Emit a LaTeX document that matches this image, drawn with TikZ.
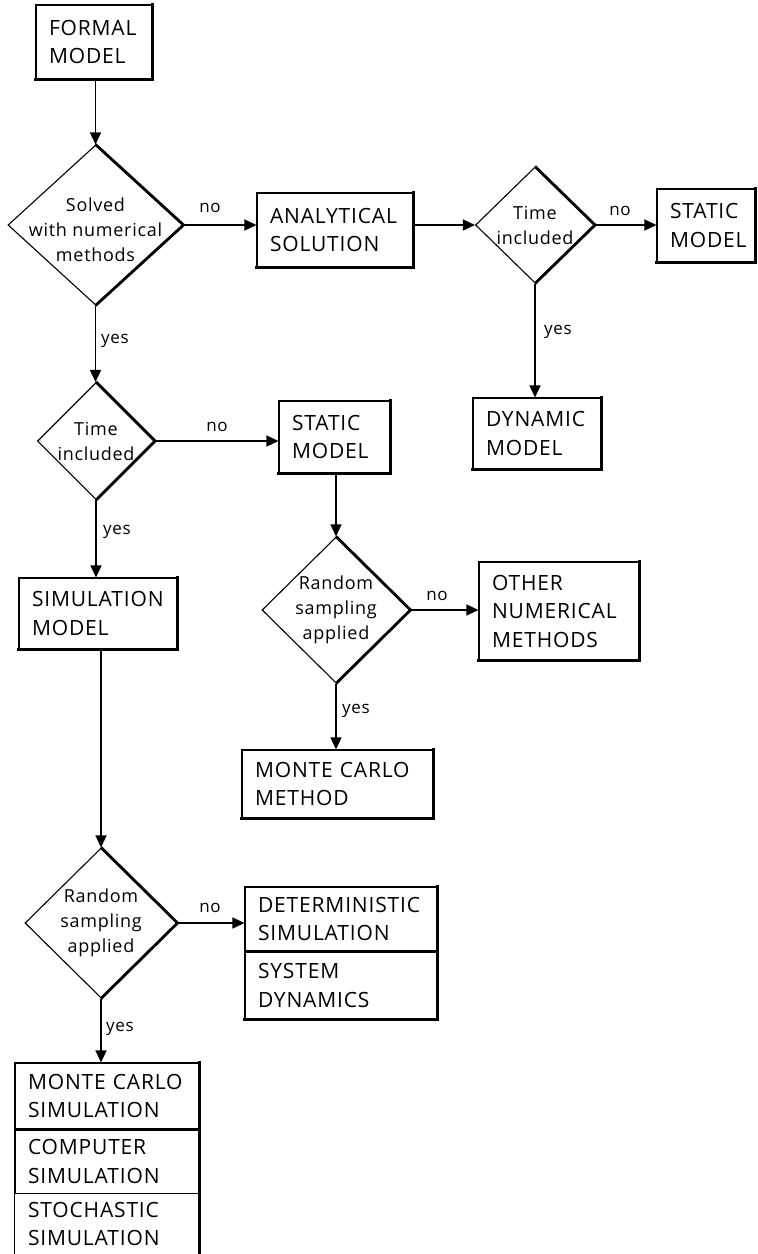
\documentclass[tikz,border=0pt]{standalone}
\usepackage{fontspec}
\setmainfont{Open Sans}[LetterSpace=4]
\usetikzlibrary{arrows.meta,shapes.geometric}

\newcommand\bxfont{\fontsize{21}{28.5}\selectfont}
\newcommand\dmfont{\fontsize{18}{25}\selectfont}
\newcommand\lbfont{\fontsize{17}{20}\selectfont}

\begin{document}
\begin{tikzpicture}[x=1pt,y=-1pt,
  box/.style={draw,line width=1.1pt,inner xsep=13pt,inner ysep=0pt,
    align=left,font=\bxfont,anchor=center},
  dia/.style={draw,shape=diamond,inner sep=0pt,line width=1.1pt},
  dtext/.style={align=center,font=\dmfont,inner sep=0pt},
  lbl/.style={font=\lbfont,inner sep=0pt},
  shadowedge/.style={line width=2.8pt,line cap=rect},
  arr/.style={line width=1.4pt,-{Triangle[length=12pt,width=11pt]}},
]
\useasboundingbox (0,0) rectangle (758,1254);

% ---- boxes ----
\node[box,text width=90pt,minimum height=74pt]  (formal) at (94,42)   {FORMAL\\MODEL};
\node[box,text width=130pt,minimum height=74pt] (ana)    at (335,230) {ANALYTICAL\\SOLUTION};
\node[box,text width=72pt,minimum height=73pt]  (st1)    at (706,225.5) {STATIC\\MODEL};
\node[box,text width=102pt,minimum height=71pt] (dyn)    at (537,433.5) {DYNAMIC\\MODEL};
\node[box,text width=85pt,minimum height=72pt]  (st2)    at (334.5,437) {STATIC\\MODEL};
\node[box,text width=134pt,minimum height=98pt] (other)  at (559,611) {OTHER\\NUMERICAL\\METHODS};
\node[box,text width=165pt,minimum height=68pt] (mcm)    at (337.5,784) {MONTE CARLO\\METHOD};
\node[box,text width=132pt,minimum height=71pt] (sim)    at (98,613.5) {SIMULATION\\MODEL};

% stacked boxes on the right
\node[box,text width=166pt,minimum height=64pt] (det1) at (341,919) {DETERMINISTIC\\SIMULATION};
\node[box,text width=166pt,minimum height=67pt,anchor=north] (det2) at (det1.south) {SYSTEM\\DYNAMICS};

% stacked boxes at the bottom; the last one runs off the lower edge
\node[box,text width=158pt,minimum height=66pt] (mcs) at (107,1096) {MONTE CARLO\\SIMULATION};
\node[box,text width=158pt,minimum height=63pt,anchor=north] (cps) at (mcs.south) {COMPUTER\\SIMULATION};
\node[box,draw=none,text width=158pt,minimum height=60pt,anchor=north] (sts) at (cps.south) {STOCHASTIC\\SIMULATION};
\draw[line width=1.1pt] (sts.north west) -- (sts.south west) -- ++(0,20);

% heavier right and bottom edges of the boxes
\foreach \n in {formal,ana,st1,dyn,st2,other,mcm,sim,det2}
  \draw[shadowedge] (\n.north east) -- (\n.south east) -- (\n.south west);
\draw[shadowedge] (det1.north east) -- (det1.south east);
\draw[shadowedge] (mcs.north east) -- (sts.south east) -- ++(0,20);

% ---- decisions ----
\node[dia,minimum width=175pt,minimum height=160pt] (d1) at (95.5,225) {};
\node[dtext] (d1t) at ([yshift=-5pt]d1.center) {Solved\\with numerical\\methods};
\node[dia,minimum width=119pt,minimum height=116pt] (d2) at (535,225) {};
\node[dtext] (d2t) at (d2.center) {Time\\included};
\node[dia,minimum width=117pt,minimum height=117pt] (d3) at (96,441) {};
\node[dtext] (d3t) at (d3.center) {Time\\included};
\node[dia,minimum width=148pt,minimum height=146pt] (d4) at (336,610) {};
\node[dtext] (d4t) at (d4.center) {Random\\sampling\\applied};
\node[dia,minimum width=152pt,minimum height=150pt] (d5) at (101,923) {};
\node[dtext] (d5t) at (d5.center) {Random\\sampling\\applied};

\foreach \n in {d1,d2,d3,d4,d5}
  \draw[line width=2.8pt,line join=miter] (\n.north) -- (\n.east) -- (\n.south);

% ---- connectors ----
\draw[arr] (d1.north |- formal.south) -- (d1.north);
\draw[arr] (d1.east) -- (d1.east -| ana.west);
\draw[arr] (ana.east |- d2.west) -- (d2.west);
\draw[arr] (d2.east) -- (d2.east -| st1.west);
\draw[arr] (d2.south) -- (d2.south |- dyn.north);
\draw[arr] (d1.south) -- (d1.south |- d3.north);
\draw[arr] (d3.east) -- (d3.east -| st2.west);
\draw[arr] (d4.north |- st2.south) -- (d4.north);
\draw[arr] (d4.east) -- (d4.east -| other.west);
\draw[arr] (d4.south) -- (d4.south |- mcm.north);
\draw[arr] (d3.south) -- (d3.south |- sim.north);
\draw[arr] (d5.north |- sim.south) -- (d5.north);
\draw[arr] (d5.east) -- (d5.east -| det1.west);
\draw[arr] (d5.south) -- (d5.south |- mcs.north);

% ---- branch labels ----
\node[lbl] (n1) at (210,208) {no};
\node[lbl] (n2) at (620,211) {no};
\node[lbl] (n3) at (217,427) {no};
\node[lbl] (n4) at (437,596) {no};
\node[lbl] (n5) at (210,908) {no};
\node[lbl,anchor=west] (y1) at (101,341) {yes};
\node[lbl,anchor=west] (y2) at (544,332) {yes};
\node[lbl,anchor=west] (y3) at (103,532) {yes};
\node[lbl,anchor=west] (y4) at (342,711) {yes};
\node[lbl,anchor=west] (y5) at (106,1029) {yes};
\end{tikzpicture}
\end{document}
